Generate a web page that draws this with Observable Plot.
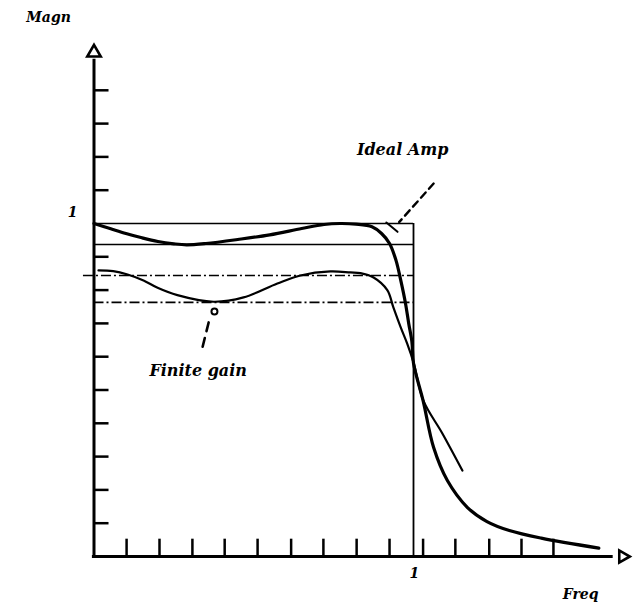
<!DOCTYPE html>
<html>
<head>
<meta charset="utf-8">
<script src="https://cdn.jsdelivr.net/npm/d3@7"></script>
<script src="https://cdn.jsdelivr.net/npm/@observablehq/plot@0.6"></script>
<style>
  html, body { margin: 0; padding: 0; background: #fff; }
  #chart svg { display: block; }
</style>
</head>
<body>
<div id="chart"></div>
<script>
// ---- data ----
const yTicks = [0.1, 0.2, 0.3, 0.4, 0.5, 0.6, 0.7, 0.8, 0.9, 1.1, 1.2, 1.3, 1.4];
const xTicks = [0.102, 0.205, 0.308, 0.409, 0.512, 0.617, 0.718, 0.822, 0.925, 1.03, 1.131, 1.237, 1.338, 1.438];

// "Ideal Amp" response (thick curve)
const idealFreq = [0, 0.05, 0.1, 0.15, 0.2, 0.25, 0.29, 0.35, 0.45, 0.55, 0.65, 0.72, 0.77, 0.82, 0.87, 0.9, 0.925, 0.945, 0.96, 0.975, 0.985, 0.995, 1.0, 1.03, 1.063, 1.106, 1.169, 1.23, 1.3, 1.4, 1.58];
const idealMag  = [1.0, 0.985, 0.97, 0.957, 0.946, 0.939, 0.936, 0.94, 0.952, 0.966, 0.985, 0.997, 1.0, 0.998, 0.99, 0.97, 0.94, 0.89, 0.83, 0.76, 0.70, 0.645, 0.58, 0.468, 0.327, 0.228, 0.147, 0.105, 0.078, 0.055, 0.025];

// "Finite gain" response (thin curve)
const finiteFreq = [0.014, 0.06, 0.105, 0.155, 0.199, 0.261, 0.374, 0.468, 0.574, 0.646, 0.74, 0.803, 0.834, 0.875, 0.918, 0.937, 0.96, 0.98, 1.0, 1.031, 1.09, 1.153];
const finiteMag  = [0.859, 0.857, 0.847, 0.829, 0.807, 0.785, 0.765, 0.778, 0.82, 0.844, 0.856, 0.853, 0.851, 0.838, 0.80, 0.748, 0.688, 0.64, 0.583, 0.468, 0.37, 0.258];

// reference levels
const idealLevels = [1.0, 0.937];     // solid
const finiteLevels = [0.844, 0.763];  // dash-dot
const cutoff = [1];

// axis extents (arrow tips)
const yAxisTop = 1.513;
const xAxisEnd = 1.655;

// annotation texts
const axisTitles = [
  {text: "Magn", x: -0.142, y: 1.62},
  {text: "Freq", x: 1.523, y: -0.114}
];
const tickLabels = [
  {text: "1", x: -0.067, y: 1.033},
  {text: "1", x: 1.003, y: -0.05}
];
const callouts = [
  {text: "Ideal Amp", x: 0.966, y: 1.222},
  {text: "Finite gain", x: 0.326, y: 0.556}
];
const idealLeader = [{x: 1.063, y: 1.12}, {x: 0.955, y: 1.004}];
const idealHook = [{x: 0.915, y: 1.003}, {x: 0.95, y: 0.975}];
const finiteLeader = [{x: 0.34, y: 0.63}, {x: 0.362, y: 0.715}];
const finiteBlob = [{x: 0.377, y: 0.736}];

// ---- tables ----
const ideal = idealFreq.map((f, i) => ({f, m: idealMag[i]}));
const finite = finiteFreq.map((f, i) => ({f, m: finiteMag[i]}));

const font = {fontFamily: "DejaVu Serif", fontStyle: "italic", fontWeight: "bold", fill: "#000"};

const chart = Plot.plot({
  width: 641,
  height: 604,
  x: {domain: [0, 1], range: [93.5, 413], axis: null},
  y: {domain: [0, 1], range: [556, 223], axis: null},
  style: {background: "#fff", color: "#000"},
  marks: [
    // reference levels
    Plot.ruleY(idealLevels, {y: d => d, x1: 0, x2: 1, stroke: "#000", strokeWidth: 1.6}),
    Plot.ruleY(finiteLevels, {y: d => d, x1: (d, i) => i === 0 ? -0.033 : 0, x2: 1, stroke: "#000", strokeWidth: 1.6, strokeDasharray: "10,3,2,3"}),
    Plot.ruleX(cutoff, {x: d => d, y1: 0, y2: 1, stroke: "#000", strokeWidth: 1.8}),
    // ticks
    Plot.ruleY(yTicks, {y: d => d, x1: 0, x2: 0.047, stroke: "#000", strokeWidth: 2.5}),
    Plot.ruleX(xTicks, {x: d => d, y1: 0, y2: 0.052, stroke: "#000", strokeWidth: 2.5}),
    // axes
    Plot.ruleX([0], {x: d => d, y1: -0.005, y2: yAxisTop - 0.02, stroke: "#000", strokeWidth: 3}),
    Plot.ruleY([0], {y: d => d, x1: -0.005, x2: xAxisEnd - 0.03, stroke: "#000", strokeWidth: 3}),
    Plot.dot([{x: 0, y: yAxisTop}], {x: "x", y: "y", symbol: "triangle", r: 5, stroke: "#000", strokeWidth: 2.6, fill: "#fff"}),
    Plot.dot([{x: xAxisEnd, y: 0}], {x: "x", y: "y", symbol: "triangle", rotate: 90, r: 4.5, stroke: "#000", strokeWidth: 2.6, fill: "#fff"}),
    // curves
    Plot.line(finite, {x: "f", y: "m", stroke: "#000", strokeWidth: 2.2, curve: "catmull-rom"}),
    Plot.line(ideal, {x: "f", y: "m", stroke: "#000", strokeWidth: 3.2, curve: "catmull-rom"}),
    // leaders
    Plot.line(idealLeader, {x: "x", y: "y", stroke: "#000", strokeWidth: 2.4, strokeDasharray: "7,5"}),
    Plot.line(idealHook, {x: "x", y: "y", stroke: "#000", strokeWidth: 2}),
    Plot.line(finiteLeader, {x: "x", y: "y", stroke: "#000", strokeWidth: 2.6, strokeDasharray: "9,7"}),
    Plot.dot(finiteBlob, {x: "x", y: "y", r: 3, stroke: "#000", strokeWidth: 2, fill: "#fff"}),
    // texts
    Plot.text(axisTitles, {x: "x", y: "y", text: "text", fontSize: 14, ...font}),
    Plot.text(tickLabels, {x: "x", y: "y", text: "text", fontSize: 14, ...font}),
    Plot.text(callouts, {x: "x", y: "y", text: "text", fontSize: 16, ...font})
  ]
});

document.getElementById("chart").appendChild(chart);
</script>
</body>
</html>
